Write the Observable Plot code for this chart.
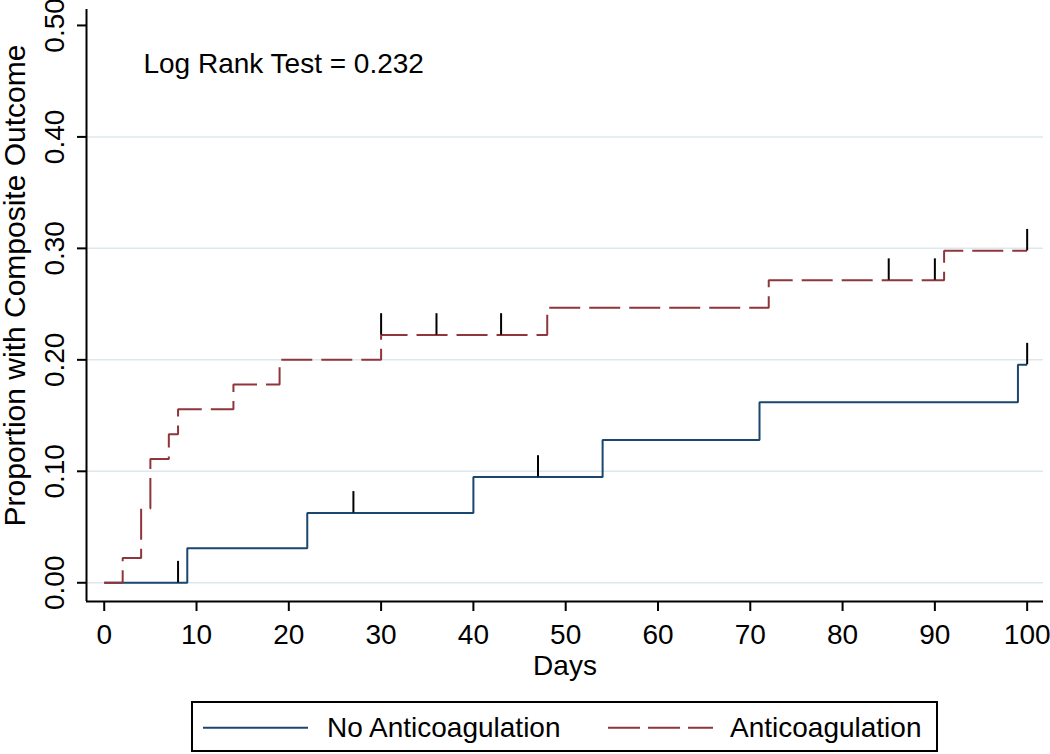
<!DOCTYPE html>
<html>
<head>
<meta charset="utf-8">
<script src="https://cdn.jsdelivr.net/npm/d3@7"></script>
<script src="https://cdn.jsdelivr.net/npm/@observablehq/plot@0.6"></script>
<style>
  html, body { margin: 0; padding: 0; background: #ffffff; }
  #wrap { width: 1050px; height: 754px; overflow: hidden; background: #ffffff; font-family: "Liberation Sans", Arial, sans-serif; }
  #wrap svg { display: block; }
</style>
</head>
<body>
<div id="wrap">
  <div id="chart"></div>
  <div id="legend"></div>
</div>
<script>
// ---- Data ----
const seriesNames = ["No Anticoagulation", "Anticoagulation"];

const noAntiDays = [0, 9, 22, 40, 54, 71, 99, 100];
const noAntiProp = [0, 0.031, 0.0626, 0.0948, 0.128, 0.162, 0.1956, 0.1956];
const noAntiCensorDays = [8, 27, 47, 100];

const antiDays = [0, 2, 4, 5, 7, 8, 14, 19, 30, 48, 72, 91, 100];
const antiProp = [0, 0.0222, 0.0667, 0.1111, 0.1333, 0.1556, 0.1778, 0.2, 0.2222, 0.2467, 0.2714, 0.2978, 0.2978];
const antiCensorDays = [30, 36, 43, 85, 90, 100];

const xTicks = [0, 10, 20, 30, 40, 50, 60, 70, 80, 90, 100];
const yTicks = [0, 0.1, 0.2, 0.3, 0.4, 0.5];
const gridTicks = [0, 0.1, 0.2, 0.3, 0.4];

const xTitle = "Days";
const yTitle = "Proportion with Composite Outcome";
const annotation = "Log Rank Test = 0.232";

// ---- Build tables ----
const noAnti = noAntiDays.map((d, i) => ({day: d, p: noAntiProp[i]}));
const anti = antiDays.map((d, i) => ({day: d, p: antiProp[i]}));
function levelAt(days, props, t) {
  let v = props[0];
  for (let i = 0; i < days.length; i++) if (days[i] <= t) v = props[i];
  return v;
}
const noAntiCensor = noAntiCensorDays.map(d => ({day: d, p: levelAt(noAntiDays, noAntiProp, d)}));
const antiCensor = antiCensorDays.map(d => ({day: d, p: levelAt(antiDays, antiProp, d)}));

const blue = "#1a476f";
const red = "#90353b";
const censorLen = 0.0192;
const xDomain = [-1.92, 101.77];
const yDomain = [-0.0168, 0.5143];
const font = "'Liberation Sans', Arial, sans-serif";

const plot = Plot.plot({
  width: 1050,
  height: 690,
  marginLeft: 86,
  marginRight: 7,
  marginTop: 9,
  marginBottom: 89,
  x: {domain: xDomain, label: null},
  y: {domain: yDomain, label: null},
  style: {fontFamily: font, fontSize: "28px", color: "#000", background: "#fff", overflow: "visible"},
  marks: [
    Plot.gridY(gridTicks, {stroke: "#dde8ec", strokeOpacity: 1, strokeWidth: 1.5}),
    Plot.ruleX([xDomain[0]], {stroke: "#000", strokeWidth: 2}),
    Plot.ruleY([yDomain[0]], {stroke: "#000", strokeWidth: 2}),
    Plot.axisX(xTicks, {tickSize: 10, tickPadding: 12.4, strokeWidth: 2, fontSize: 28, label: null, tickFormat: d => String(d)}),
    Plot.axisY(yTicks, {tickSize: 9, tickPadding: 14, tickRotate: -90, strokeWidth: 2, fontSize: 28, label: null, tickFormat: d3.format(".2f")}),
    Plot.line(noAnti, {x: "day", y: "p", curve: "step-after", stroke: blue, strokeWidth: 2, strokeLinecap: "butt", strokeLinejoin: "miter"}),
    Plot.line(anti, {x: "day", y: "p", curve: "step-after", stroke: red, strokeWidth: 2, strokeDasharray: "31,9", strokeLinecap: "butt", strokeLinejoin: "miter"}),
    Plot.ruleX(noAntiCensor, {x: "day", y1: "p", y2: d => d.p + censorLen, stroke: "#000", strokeWidth: 2}),
    Plot.ruleX(antiCensor, {x: "day", y1: "p", y2: d => d.p + censorLen, stroke: "#000", strokeWidth: 2}),
    Plot.text([annotation], {text: d => d, x: 4.25, y: 0.465, textAnchor: "start", lineAnchor: "middle", fontSize: 28, fill: "#000"}),
    Plot.text([xTitle], {text: d => d, frameAnchor: "bottom", dy: 73.3, lineAnchor: "bottom", textAnchor: "middle", fontSize: 28, fill: "#000"}),
    Plot.text([yTitle], {text: d => d, frameAnchor: "left", dx: -62, dy: -20, rotate: -90, lineAnchor: "bottom", textAnchor: "middle", fontSize: 30, fill: "#000"})
  ]
});
document.getElementById("chart").appendChild(plot);

// ---- Legend (below the plot SVG) ----
const ns = "http://www.w3.org/2000/svg";
const leg = document.createElementNS(ns, "svg");
leg.setAttribute("width", 1050);
leg.setAttribute("height", 64);
leg.style.fontFamily = font;
function el(tag, attrs, txt) {
  const e = document.createElementNS(ns, tag);
  for (const k in attrs) e.setAttribute(k, attrs[k]);
  if (txt) e.textContent = txt;
  leg.appendChild(e);
  return e;
}
el("rect", {x: 192, y: 12, width: 745, height: 49, fill: "#fff", stroke: "#000", "stroke-width": 2});
el("line", {x1: 203, x2: 308, y1: 37.7, y2: 37.7, stroke: blue, "stroke-width": 2});
el("text", {x: 327, y: 47.3, "font-size": 28, fill: "#000"}, seriesNames[0]);
el("line", {x1: 608, x2: 713, y1: 37.7, y2: 37.7, stroke: red, "stroke-width": 2, "stroke-dasharray": "32,8"});
el("text", {x: 730, y: 47.3, "font-size": 28, fill: "#000"}, seriesNames[1]);
document.getElementById("legend").appendChild(leg);
</script>
</body>
</html>
